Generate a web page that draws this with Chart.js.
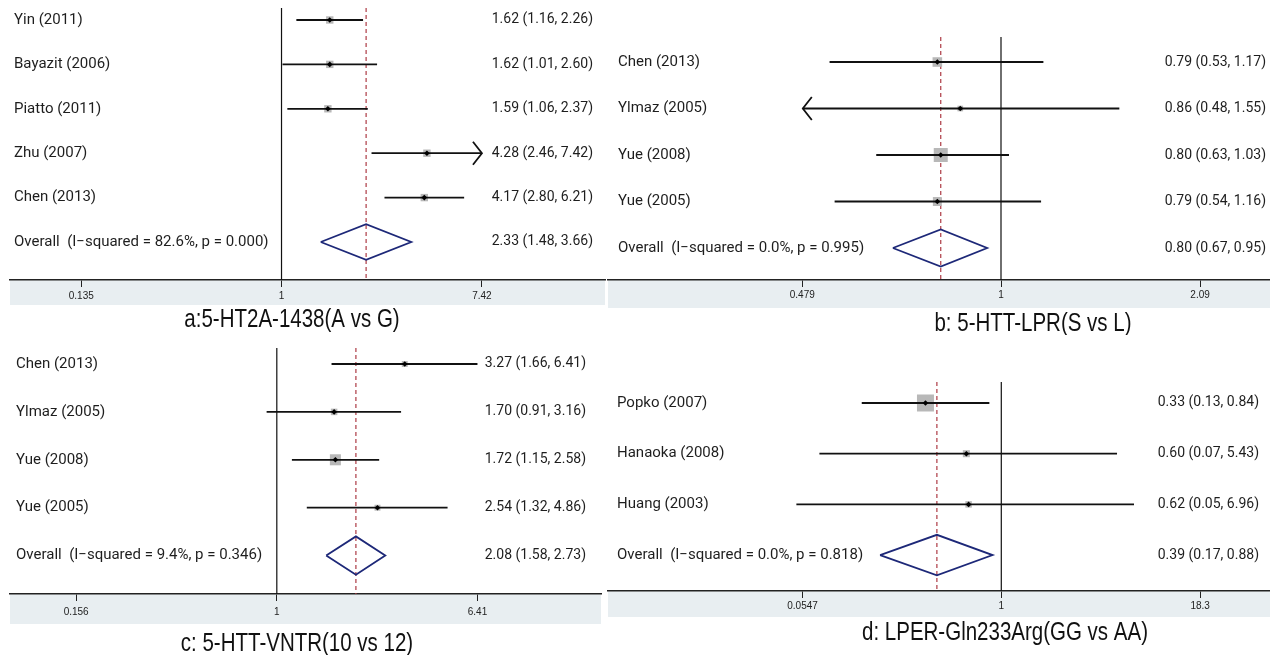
<!DOCTYPE html>
<html lang="en">
<head>
<meta charset="UTF-8">
<title>Forest plots</title>
<script src="https://cdn.jsdelivr.net/npm/chart.js"></script>
<style>
  body { margin: 0; background: #fff; }
  #wrap { position: relative; width: 1270px; height: 655px; overflow: hidden; }
  .panel { position: absolute; }
</style>
</head>
<body>
<div id="wrap">
  <div class="panel" style="left:0;top:0"><canvas id="chartA" width="612" height="335"></canvas></div>
  <div class="panel" style="left:607px;top:0"><canvas id="chartB" width="663" height="335"></canvas></div>
  <div class="panel" style="left:0;top:325px"><canvas id="chartC" width="612" height="330"></canvas></div>
  <div class="panel" style="left:607px;top:325px"><canvas id="chartD" width="663" height="330"></canvas></div>
</div>
<script>
// a: 5-HT2A-1438 (A vs G)
const studiesA = ['Yin (2011)', 'Bayazit (2006)', 'Piatto (2011)', 'Zhu (2007)', 'Chen (2013)'];
const orA = [1.62, 1.62, 1.59, 4.28, 4.17];
const lowA = [1.16, 1.01, 1.06, 2.46, 2.80];
const highA = [2.26, 2.60, 2.37, 7.42, 6.21];
const weightA = [20, 20, 20, 20, 20];
const arrowA = ['', '', '', 'right', ''];
const overallA = [2.33, 1.48, 3.66];
const overallTextA = 'Overall  (I\u2212squared = 82.6%, p = 0.000)';
const ticksA = [0.135, 1, 7.42];
const tickLabelsA = ['0.135', '1', '7.42'];
const titleA = 'a:5-HT2A-1438(A vs G)';

// b: 5-HTT-LPR (S vs L)
const studiesB = ['Chen (2013)', 'Ylmaz (2005)', 'Yue (2008)', 'Yue (2005)'];
const orB = [0.79, 0.86, 0.80, 0.79];
const lowB = [0.53, 0.48, 0.63, 0.54];
const highB = [1.17, 1.55, 1.03, 1.16];
const weightB = [23, 8, 49, 20];
const arrowB = ['', 'left', '', ''];
const overallB = [0.80, 0.67, 0.95];
const overallTextB = 'Overall  (I\u2212squared = 0.0%, p = 0.995)';
const ticksB = [0.479, 1, 2.09];
const tickLabelsB = ['0.479', '1', '2.09'];
const titleB = 'b: 5-HTT-LPR(S vs L)';

// c: 5-HTT-VNTR (10 vs 12)
const studiesC = ['Chen (2013)', 'Ylmaz (2005)', 'Yue (2008)', 'Yue (2005)'];
const orC = [3.27, 1.70, 1.72, 2.54];
const lowC = [1.66, 0.91, 1.15, 1.32];
const highC = [6.41, 3.16, 2.58, 4.86];
const weightC = [15, 18, 52, 15];
const arrowC = ['', '', '', ''];
const overallC = [2.08, 1.58, 2.73];
const overallTextC = 'Overall  (I\u2212squared = 9.4%, p = 0.346)';
const ticksC = [0.156, 1, 6.41];
const tickLabelsC = ['0.156', '1', '6.41'];
const titleC = 'c: 5-HTT-VNTR(10 vs 12)';

// d: LPER-Gln233Arg (GG vs AA)
const studiesD = ['Popko (2007)', 'Hanaoka (2008)', 'Huang (2003)'];
const orD = [0.33, 0.60, 0.62];
const lowD = [0.13, 0.07, 0.05];
const highD = [0.84, 5.43, 6.96];
const weightD = [76, 13, 11];
const arrowD = ['', '', ''];
const overallD = [0.39, 0.17, 0.88];
const overallTextD = 'Overall  (I\u2212squared = 0.0%, p = 0.818)';
const ticksD = [0.0547, 1, 18.3];
const tickLabelsD = ['0.0547', '1', '18.3'];
const titleD = 'd: LPER-Gln233Arg(GG vs AA)';

const LABEL_FONT = '15px Roboto, "Open Sans", sans-serif';
const EST_FONT = '14px Roboto, "Open Sans", sans-serif';
const TEXT_COLOR = '#1e1e1e';

// is the narrow Liberation face installed? otherwise squeeze the regular one
function hasNarrow() {
    const c = document.createElement('canvas').getContext('2d');
    c.font = '40px monospace';
    const a = c.measureText('abcdefghijklmnopqrstuvwxyz').width;
    c.font = '40px "Liberation Sans Narrow", monospace';
    const b = c.measureText('abcdefghijklmnopqrstuvwxyz').width;
    return Math.abs(a - b) > 0.5;
}
const NARROW = hasNarrow();

function fmt(v) { return v.toFixed(2); }

function makeForest(id, p) {
    const n = p.studies.length;
    const [est, lo, hi] = p.overall;
    const pts = p.or.map((v, i) => ({ x: v, y: i }));

    const datasets = [];
    // centre markers (drawn on top)
    datasets.push({ data: pts, pointStyle: 'rectRot', pointRadius: 2.8,
        pointBackgroundColor: '#000', pointBorderWidth: 0, showLine: false });
    // confidence intervals
    p.low.forEach((l, i) => {
        datasets.push({ data: [{ x: l, y: i }, { x: p.high[i], y: i }], showLine: true,
            borderColor: '#111', borderWidth: 1.8, pointRadius: 0 });
    });
    // weight boxes
    datasets.push({ data: pts, pointStyle: 'rect',
        pointRadius: p.weight.map(w => p.boxScale * Math.sqrt(w) / Math.SQRT2),
        pointBackgroundColor: '#b8b8b8', pointBorderWidth: 0, showLine: false });
    // pooled diamond
    datasets.push({ data: [{ x: lo, y: n }, { x: est, y: n - 0.4 }, { x: hi, y: n },
            { x: est, y: n + 0.4 }, { x: lo, y: n }],
        showLine: true, borderColor: '#1d2878', borderWidth: 1.8, pointRadius: 0,
        borderJoinStyle: 'miter' });
    // dashed pooled estimate line
    datasets.push({ data: [{ x: est, y: p.yMin }, { x: est, y: p.yMax }], showLine: true,
        borderColor: '#ad3a44', borderWidth: 1.2, borderDash: [4, 3], pointRadius: 0 });
    // line of no effect
    datasets.push({ data: [{ x: 1, y: p.yMin }, { x: 1, y: p.yMax }], showLine: true,
        borderColor: '#111', borderWidth: 1.2, pointRadius: 0 });

    const panelPlugin = {
        id: 'panel' + id,
        beforeDraw(chart) {
            const { ctx, chartArea } = chart;
            ctx.save();
            ctx.fillStyle = '#e8eef1';
            ctx.fillRect(chartArea.left, chartArea.bottom, chartArea.right - chartArea.left, p.bandHeight);
            ctx.restore();
        },
        afterDatasetsDraw(chart) {
            const { ctx } = chart;
            const xs = chart.scales.x, ys = chart.scales.y;
            ctx.save();
            ctx.strokeStyle = '#111';
            ctx.lineWidth = 1.8;
            p.arrow.forEach((a, i) => {
                if (!a) return;
                const dir = a === 'right' ? 1 : -1;
                const tip = xs.getPixelForValue(a === 'right' ? p.high[i] : p.low[i]);
                const y = ys.getPixelForValue(i);
                ctx.beginPath();
                ctx.moveTo(tip - dir * 9, y - 11.5);
                ctx.lineTo(tip, y);
                ctx.lineTo(tip - dir * 9, y + 11.5);
                ctx.stroke();
            });
            ctx.restore();
        },
        afterDraw(chart) {
            const { ctx } = chart;
            const ys = chart.scales.y;
            ctx.save();
            ctx.fillStyle = TEXT_COLOR;
            ctx.textBaseline = 'middle';
            p.studies.forEach((s, i) => {
                const y = ys.getPixelForValue(i);
                ctx.font = LABEL_FONT;
                ctx.textAlign = 'left';
                ctx.fillText(s, p.labelX, y);
                ctx.font = EST_FONT;
                ctx.textAlign = 'right';
                ctx.fillText(`${fmt(p.or[i])} (${fmt(p.low[i])}, ${fmt(p.high[i])})`, p.estX, y);
            });
            const yo = ys.getPixelForValue(n);
            ctx.font = LABEL_FONT;
            ctx.textAlign = 'left';
            ctx.fillText(p.overallText, p.labelX, yo);
            ctx.font = EST_FONT;
            ctx.textAlign = 'right';
            ctx.fillText(`${fmt(est)} (${fmt(lo)}, ${fmt(hi)})`, p.estX, yo);

            // panel title
            ctx.fillStyle = '#111';
            ctx.textAlign = 'center';
            if (NARROW) {
                ctx.font = '25px "Liberation Sans Narrow"';
                ctx.fillText(p.title, p.titleX, p.titleY);
            } else {
                ctx.font = '25px "Liberation Sans", Arial, sans-serif';
                ctx.translate(p.titleX, p.titleY);
                ctx.scale(0.82, 1);
                ctx.fillText(p.title, 0, 0);
            }
            ctx.restore();
        }
    };

    return new Chart(document.getElementById(id), {
        type: 'scatter',
        data: { datasets },
        options: {
            responsive: false,
            animation: false,
            events: [],
            layout: { padding: p.padding, autoPadding: false },
            plugins: { legend: { display: false }, tooltip: { enabled: false } },
            scales: {
                x: {
                    type: 'logarithmic',
                    min: p.xMin,
                    max: p.xMax,
                    afterBuildTicks: s => { s.ticks = p.ticks.map(v => ({ value: v })); },
                    afterFit: s => { s.height = p.axisHeight; },
                    ticks: {
                        callback: (v, i) => p.tickLabels[i],
                        autoSkip: false,
                        maxRotation: 0,
                        padding: p.tickPadding,
                        color: '#222',
                        font: { family: '"Liberation Sans", Arial, sans-serif', size: 10 }
                    },
                    grid: { drawOnChartArea: false, drawTicks: true, tickLength: 7, color: '#222', lineWidth: 1 },
                    border: { display: true, color: '#222', width: 1.5 }
                },
                y: {
                    type: 'linear',
                    display: false,
                    reverse: true,
                    min: p.yMin,
                    max: p.yMax
                }
            }
        },
        plugins: [panelPlugin]
    });
}

makeForest('chartA', {
    studies: studiesA, or: orA, low: lowA, high: highA, weight: weightA, arrow: arrowA,
    overall: overallA, overallText: overallTextA, ticks: ticksA, tickLabels: tickLabelsA, title: titleA,
    xMin: 0.0662, xMax: 25.4, yMin: -0.27, yMax: 5.856, boxScale: 1.65,
    padding: { left: 10, right: 7, top: 8, bottom: 0 }, axisHeight: 55, bandHeight: 25, tickPadding: 3,
    labelX: 14, estX: 593, titleX: 292, titleY: 320
});

makeForest('chartB', {
    studies: studiesB, or: orB, low: lowB, high: highB, weight: weightB, arrow: arrowB,
    overall: overallB, overallText: overallTextB, ticks: ticksB, tickLabels: tickLabelsB, title: titleB,
    xMin: 0.2333, xMax: 2.708, yMin: -0.538, yMax: 4.688, boxScale: 2.0,
    padding: { left: 1, right: 0, top: 37, bottom: 0 }, axisHeight: 55, bandHeight: 28, tickPadding: 2,
    labelX: 11, estX: 659, titleX: 426, titleY: 324
});

makeForest('chartC', {
    studies: studiesC, or: orC, low: lowC, high: highC, weight: weightC, arrow: arrowC,
    overall: overallC, overallText: overallTextC, ticks: ticksC, tickLabels: tickLabelsC, title: titleC,
    xMin: 0.08455, xMax: 20.12, yMin: -0.334, yMax: 4.802, boxScale: 1.53,
    padding: { left: 10, right: 11, top: 23, bottom: 0 }, axisHeight: 61, bandHeight: 30, tickPadding: 5,
    labelX: 16, estX: 586, titleX: 297, titleY: 319
});

makeForest('chartD', {
    studies: studiesD, or: orD, low: lowD, high: highD, weight: weightD, arrow: arrowD,
    overall: overallD, overallText: overallTextD, ticks: ticksD, tickLabels: tickLabelsD, title: titleD,
    xMin: 0.003183, xMax: 50.83, yMin: -0.414, yMax: 3.708, boxScale: 1.95,
    padding: { left: 1, right: 0, top: 57, bottom: 0 }, axisHeight: 64, bandHeight: 26, tickPadding: 2.5,
    labelX: 10, estX: 652, titleX: 398, titleY: 308
});
</script>
</body>
</html>
